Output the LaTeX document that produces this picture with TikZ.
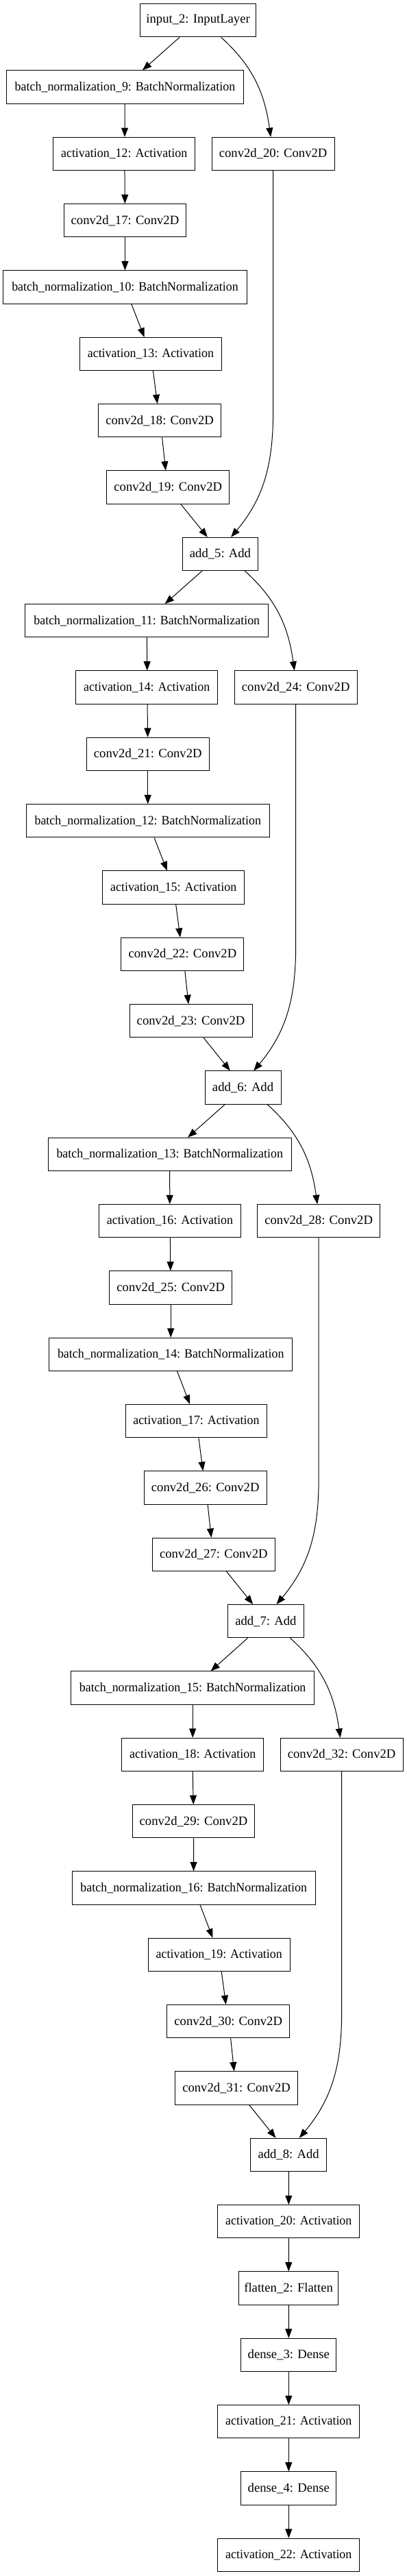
\documentclass[tikz,border=0pt]{standalone}
\usepackage{fontspec}
\setmainfont{Liberation Serif}
\usepackage{graphicx}
\usetikzlibrary{arrows.meta}
\newcommand\sq[1]{\scalebox{0.96}[1]{#1}}
\newcommand\lay[5]{\node[box,minimum width=#4pt] (#1) at (#2,#3) {#5};}
\tikzset{
  box/.style={draw=black, line width=0.75pt, minimum height=36.2pt, inner sep=0pt, fill=white, font=\fontsize{14}{16}\selectfont},
  arr/.style={line width=0.75pt, -{Triangle[length=10pt,width=7.5pt]}}
}
\begin{document}
\begin{tikzpicture}[x=0.28365pt, y=-0.75pt]
\fill[white] (0,0) rectangle (1568,3759);
\useasboundingbox (0,0) rectangle (1568,3759);
% block 1
\lay{in2}{764.5}{29.8}{126.2}{input\_2: InputLayer}
\lay{bn9}{482.5}{127.1}{260.1}{\sq{batch\_normalization\_9: BatchNormalization}}
\lay{act12}{479}{224.5}{155.2}{\sq{activation\_12: Activation}}
\lay{c20}{1054}{224.5}{134.2}{conv2d\_20: Conv2D}
\lay{c17}{482.5}{321.8}{134.2}{conv2d\_17: Conv2D}
\lay{bn10}{482.5}{419.1}{266.3}{\sq{batch\_normalization\_10: BatchNormalization}}
\lay{act13}{581.5}{516.5}{155.2}{\sq{activation\_13: Activation}}
\lay{c18}{616.5}{613.8}{134.2}{conv2d\_18: Conv2D}
\lay{c19}{648.5}{711.1}{134.2}{conv2d\_19: Conv2D}
\lay{add5}{850}{808.4}{83.2}{add\_5: Add}
% block 2
\lay{bn11}{566.5}{905.8}{266.3}{\sq{batch\_normalization\_11: BatchNormalization}}
\lay{act14}{566.5}{1003.1}{155.2}{\sq{activation\_14: Activation}}
\lay{c24}{1141.5}{1003.1}{134.2}{conv2d\_24: Conv2D}
\lay{c21}{570.5}{1100.4}{134.2}{conv2d\_21: Conv2D}
\lay{bn12}{570.5}{1197.8}{266.3}{\sq{batch\_normalization\_12: BatchNormalization}}
\lay{act15}{669.5}{1295.1}{155.2}{\sq{activation\_15: Activation}}
\lay{c22}{704.5}{1392.4}{134.2}{conv2d\_22: Conv2D}
\lay{c23}{736.5}{1489.8}{134.2}{conv2d\_23: Conv2D}
\lay{add6}{937.5}{1587.1}{83.2}{add\_6: Add}
% block 3
\lay{bn13}{655}{1684.4}{266.3}{\sq{batch\_normalization\_13: BatchNormalization}}
\lay{act16}{655.5}{1781.7}{155.2}{\sq{activation\_16: Activation}}
\lay{c28}{1230}{1781.7}{134.2}{conv2d\_28: Conv2D}
\lay{c25}{659}{1879.1}{134.2}{conv2d\_25: Conv2D}
\lay{bn14}{659}{1976.4}{266.3}{\sq{batch\_normalization\_14: BatchNormalization}}
\lay{act17}{757.5}{2073.7}{155.2}{\sq{activation\_17: Activation}}
\lay{c26}{792.5}{2171.1}{134.2}{conv2d\_26: Conv2D}
\lay{c27}{824.5}{2268.4}{134.2}{conv2d\_27: Conv2D}
\lay{add7}{1025.5}{2365.7}{83.2}{add\_7: Add}
% block 4
\lay{bn15}{743.5}{2463.1}{266.3}{\sq{batch\_normalization\_15: BatchNormalization}}
\lay{act18}{743.5}{2560.4}{155.2}{\sq{activation\_18: Activation}}
\lay{c32}{1318.5}{2560.4}{134.2}{conv2d\_32: Conv2D}
\lay{c29}{747}{2657.7}{134.2}{conv2d\_29: Conv2D}
\lay{bn16}{747.5}{2755.0}{266.3}{\sq{batch\_normalization\_16: BatchNormalization}}
\lay{act19}{845.5}{2852.4}{155.2}{\sq{activation\_19: Activation}}
\lay{c30}{881}{2949.7}{134.2}{conv2d\_30: Conv2D}
\lay{c31}{912.5}{3047.0}{134.2}{conv2d\_31: Conv2D}
\lay{add8}{1113.5}{3144.4}{83.2}{add\_8: Add}
% head
\lay{act20}{1114}{3241.7}{155.2}{\sq{activation\_20: Activation}}
\lay{fl2}{1113.5}{3339.0}{109.2}{flatten\_2: Flatten}
\lay{d3}{1114}{3436.4}{104.4}{dense\_3: Dense}
\lay{act21}{1114}{3533.7}{155.2}{\sq{activation\_21: Activation}}
\lay{d4}{1114}{3631.0}{104.4}{dense\_4: Dense}
\lay{act22}{1114}{3728.3}{155.2}{\sq{activation\_22: Activation}}
% knee points of the skip connections
\coordinate (k1) at (1054,600);
\coordinate (k2) at (1141.5,1378.6);
\coordinate (k3) at (1230,2157.2);
\coordinate (k4) at (1318.5,2935.8);
% edges block 1
\draw[arr] ([xshift=-20.3pt]in2.south) -- ([xshift=19.1pt]bn9.north);
\draw[arr] ([xshift=25.1pt]in2.south) to[out=-42,in=98] ([xshift=-2.6pt]c20.north);
\draw[arr] ([xshift=-0.2pt]bn9.south) -- ([xshift=0.6pt]act12.north);
\draw[arr] ([xshift=0.6pt]act12.south) -- ([xshift=-0.1pt]c17.north);
\draw[arr] (c17.south) -- (bn10.north);
\draw[arr] ([xshift=7pt]bn10.south) -- ([xshift=-7pt]act13.north);
\draw[arr] ([xshift=2.6pt]act13.south) -- ([xshift=-2.6pt]c18.north);
\draw[arr] ([xshift=2.6pt]c18.south) -- ([xshift=-2.6pt]c19.north);
\draw[arr] ([xshift=14pt]c19.south) -- ([xshift=-14pt]add5.north);
\draw[arr] (c20.south) -- (k1) to[out=-90,in=50] ([xshift=11.8pt]add5.north);
% edges block 2
\draw[arr] ([xshift=-19.8pt]add5.south) -- ([xshift=19.8pt]bn11.north);
\draw[arr] ([xshift=26.8pt]add5.south) to[out=-42,in=98] ([xshift=-1.5pt]c24.north);
\draw[arr] ([xshift=0.1pt]bn11.south) -- ([xshift=0.4pt]act14.north);
\draw[arr] ([xshift=0.6pt]act14.south) -- ([xshift=-0.1pt]c21.north);
\draw[arr] (c21.south) -- (bn12.north);
\draw[arr] ([xshift=7pt]bn12.south) -- ([xshift=-7pt]act15.north);
\draw[arr] ([xshift=2.6pt]act15.south) -- ([xshift=-2.6pt]c22.north);
\draw[arr] ([xshift=2.6pt]c22.south) -- ([xshift=-2.6pt]c23.north);
\draw[arr] ([xshift=14pt]c23.south) -- ([xshift=-14pt]add6.north);
\draw[arr] (c24.south) -- (k2) to[out=-90,in=50] ([xshift=11.8pt]add6.north);
% edges block 3
\draw[arr] ([xshift=-19.8pt]add6.south) -- ([xshift=19.8pt]bn13.north);
\draw[arr] ([xshift=26.8pt]add6.south) to[out=-42,in=98] ([xshift=-1.5pt]c28.north);
\draw[arr] (bn13.south) -- ([xshift=-0.1pt]act16.north);
\draw[arr] ([xshift=0.4pt]act16.south) -- ([xshift=-0.3pt]c25.north);
\draw[arr] (c25.south) -- (bn14.north);
\draw[arr] ([xshift=7pt]bn14.south) -- ([xshift=-7pt]act17.north);
\draw[arr] ([xshift=2.6pt]act17.south) -- ([xshift=-2.6pt]c26.north);
\draw[arr] ([xshift=2.6pt]c26.south) -- ([xshift=-2.6pt]c27.north);
\draw[arr] ([xshift=14pt]c27.south) -- ([xshift=-14pt]add7.north);
\draw[arr] (c28.south) -- (k3) to[out=-90,in=50] ([xshift=11.8pt]add7.north);
% edges block 4
\draw[arr] ([xshift=-19.8pt]add7.south) -- ([xshift=19.8pt]bn15.north);
\draw[arr] ([xshift=26.8pt]add7.south) to[out=-42,in=98] ([xshift=-1.5pt]c32.north);
\draw[arr] (bn15.south) -- (act18.north);
\draw[arr] (act18.south) -- ([xshift=-0.2pt]c29.north);
\draw[arr] (c29.south) -- ([xshift=-0.1pt]bn16.north);
\draw[arr] ([xshift=7pt]bn16.south) -- ([xshift=-7pt]act19.north);
\draw[arr] ([xshift=2.6pt]act19.south) -- ([xshift=-2.6pt]c30.north);
\draw[arr] ([xshift=2.6pt]c30.south) -- ([xshift=-2.6pt]c31.north);
\draw[arr] ([xshift=14pt]c31.south) -- ([xshift=-14pt]add8.north);
\draw[arr] (c32.south) -- (k4) to[out=-90,in=50] ([xshift=11.8pt]add8.north);
% head edges
\draw[arr] ([xshift=0.1pt]add8.south) -- (act20.north);
\draw[arr] (act20.south) -- ([xshift=0.1pt]fl2.north);
\draw[arr] ([xshift=0.1pt]fl2.south) -- (d3.north);
\draw[arr] (d3.south) -- (act21.north);
\draw[arr] (act21.south) -- (d4.north);
\draw[arr] (d4.south) -- (act22.north);
\end{tikzpicture}
\end{document}
